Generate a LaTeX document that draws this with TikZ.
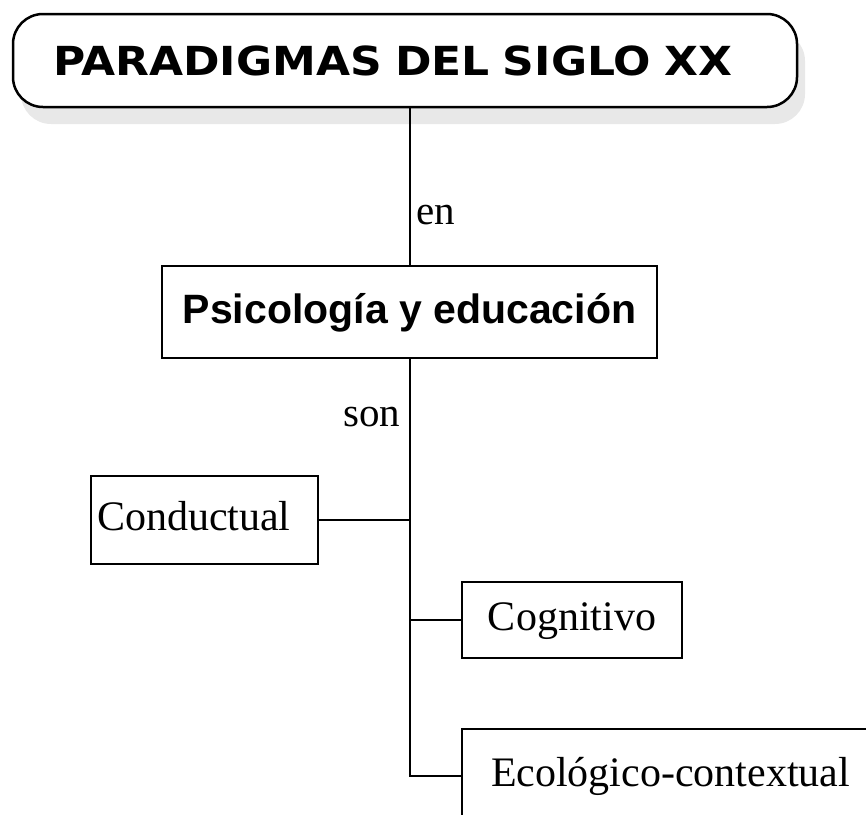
\documentclass[tikz,border=0pt]{standalone}
\usepackage{fontspec}
\setmainfont{Liberation Serif}
\newfontfamily\boxsans{Liberation Sans}
\newfontfamily\titlefont[FakeStretch=1.1]{DejaVu Sans}

\begin{document}
\begin{tikzpicture}[x=1pt, y=-1pt,
	concept/.style={draw, line width=2pt, inner sep=0pt, text height=28pt, text depth=7pt,
		font=\fontsize{42}{48}\selectfont},
	link/.style={line width=2pt},
	tag/.style={inner sep=0pt, font=\fontsize{41}{48}\selectfont}]
	\useasboundingbox (0,0) rectangle (866,814);
	\clip (0,0) rectangle (866,814);
	
	% title with its grey shadow
	\fill[black!9, rounded corners=30pt] (21,31) rectangle (805,124);
	\node[concept, line width=2.5pt, rounded corners=30pt, fill=white, minimum width=784pt, minimum height=93pt,
		text width=704pt, align=left, inner xsep=40pt, text height=29pt, text depth=0pt,
		font=\titlefont\bfseries\fontsize{40}{46}\selectfont] (title) at (405,60.5) {PARADIGMAS DEL SIGLO XX};
	
	\node[concept, minimum width=495pt, minimum height=92pt, text height=29pt,
		font=\boxsans\bfseries\fontsize{41}{46}\selectfont] (psic) at (409.5,312) {Psicología y educación};
	
	\node[concept, text width=215pt, align=left, inner xsep=6pt, minimum height=88pt] (cond) at (204.5,520) {Conductual};
	\node[concept, minimum width=220pt, minimum height=76pt] (cogn) at (572,620) {Cognitivo};
	\node[concept, anchor=north west, text width=420pt, align=left, inner xsep=29pt, inner ysep=29pt] (eco) at (461,728) {Ecológico-contextual};
	
	% connectors
	\draw[link] (psic.north |- title.south) -- (psic.north) node[tag, pos=0.684, anchor=west, inner xsep=6pt] {en};
	\draw[link] (psic.south) -- (psic.south |- eco.west) node[tag, pos=0.14, anchor=east, inner xsep=8pt] {son} -- (eco.west);
	\draw[link] (cond.east) -- (cond.east -| psic.south);
	\draw[link] (cogn.west -| psic.south) -- (cogn.west);
\end{tikzpicture}
\end{document}
